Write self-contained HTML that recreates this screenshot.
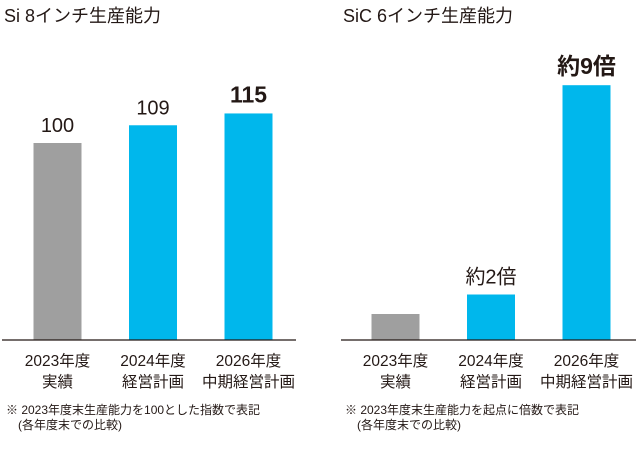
<!DOCTYPE html>
<html><head><meta charset="utf-8"><style>
body{margin:0;background:#fff;}
svg text{font-family:"Liberation Sans","Noto Sans CJK JP",sans-serif;fill:#231815;}
</style></head><body>
<svg width="640" height="458" viewBox="0 0 640 458">
<g id="g"></g>
</svg>
<script>
const siCategories=["2023年度|実績","2024年度|経営計画","2026年度|中期経営計画"];
const siValues=[100,109,115];
const siLabels=["100","109","115"];
const sicCategories=["2023年度|実績","2024年度|経営計画","2026年度|中期経営計画"];
const sicValues=[1,1.75,9.8];
const sicLabels=["","約2倍","約9倍"];
const colors=["#9f9f9f","#00b7ec","#00b7ec"];
const g=document.getElementById('g');
const NS="http://www.w3.org/2000/svg";
function mk(t,a,txt){const e=document.createElementNS(NS,t);for(const k in a)e.setAttribute(k,a[k]);if(txt!==undefined)e.textContent=txt;g.appendChild(e);return e;}
function panel(name,title,x0,x1,bx,cats,vals,labels,scale,bold){
  const base=340;
  const y=v=>base-v*scale;
  const t=mk('text',{x:x0+2,y:22,'font-size':18},title);
  
  
  vals.forEach((v,i)=>{
    const cx=bx+i*95.5;
    const r=mk('rect',{x:cx-24,y:y(v),width:48,height:base-y(v),fill:colors[i]});
    
    
    if(labels[i]){
      const b=bold[i];
      const l=mk('text',{x:cx,y:y(v)-11,'text-anchor':'middle','font-size':b?23:20,'font-weight':b?'bold':'normal'},labels[i]);
      
      
    }
    const parts=cats[i].split('|');
    parts.forEach((p,j)=>{
      const c=mk('text',{x:cx,y:366+j*21,'text-anchor':'middle','font-size':15.5},p);
      
      
    });
  });
  const ax=mk('line',{x1:x0,x2:x1,y1:base,y2:base,stroke:'#231815','stroke-width':1.3});
  
  
}
panel('si','Si 8インチ生産能力',2,296,57.5,siCategories,siValues,siLabels,1.97,[false,false,true]);
panel('sic','SiC 6インチ生産能力',341,636,395.5,sicCategories,sicValues,sicLabels,26,[false,false,true]);
const notes=[[6,'※ 2023年度末生産能力を100とした指数で表記'],[6,'　(各年度末での比較)'],[345,'※ 2023年度末生産能力を起点に倍数で表記'],[345,'　(各年度末での比較)']];
notes.forEach((n,i)=>{
  const e=mk('text',{x:n[0],y:i%2?429:414,'font-size':12},n[1]);
  
  
});
</script>
</body></html>
